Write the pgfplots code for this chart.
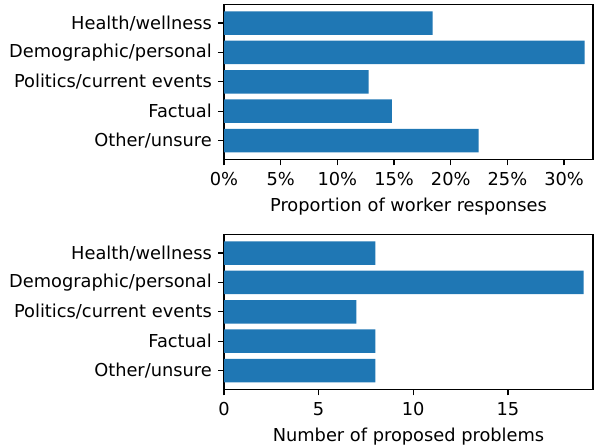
\documentclass[border=0pt]{standalone}
\usepackage{pgfplots}
\pgfplotsset{compat=1.18}
\usepackage{fontspec}
\setmainfont{DejaVu Sans}
\definecolor{mplblue}{HTML}{1F77B4}
\begin{document}
\fontsize{17.8bp}{20bp}\selectfont
\begin{tikzpicture}
\useasboundingbox (0bp,0bp) rectangle (595bp,446bp);
\pgfplotsset{
  myax/.style={
    scale only axis, width=369bp, height=155bp,
    xbar, bar shift=0pt, bar width=0.8,
    ymin=-0.64, ymax=4.64, xmin=0,
    ytick={0,1,2,3,4},
    yticklabels={Other/unsure,Factual,Politics/current events,Demographic/personal,Health/wellness},
    tick align=outside, xtick pos=bottom, ytick pos=left,
    major tick length=6bp,
    every tick/.style={black, line width=1.3bp},
    axis line style={line width=1.3bp},
    /pgf/number format/assume math mode=true,
    tick label style={font=\fontsize{17.8bp}{20bp}\selectfont, inner sep=0pt},
    xticklabel style={yshift=-7bp},
    yticklabel style={xshift=-6bp},
    label style={font=\fontsize{17.8bp}{20bp}\selectfont},
    xlabel style={inner sep=0pt},
  }
}
\begin{axis}[myax, at={(224bp,286.7bp)}, anchor=south west,
  xmax=32.55,
  xtick={0,5,10,15,20,25,30},
  xticklabels={0\%,5\%,10\%,15\%,20\%,25\%,30\%},
  xlabel={Proportion of worker responses},
  xlabel style={yshift=-12bp}]
\addplot[fill=mplblue, draw=none] coordinates {(22.46,0) (14.8,1) (12.76,2) (31.8,3) (18.4,4)};
\end{axis}
\begin{axis}[myax, at={(224bp,56.7bp)}, anchor=south west,
  xmax=19.5,
  xtick={0,5,10,15},
  xlabel={Number of proposed problems},
  xlabel style={yshift=-12bp}]
\addplot[fill=mplblue, draw=none] coordinates {(8,0) (8,1) (7,2) (19,3) (8,4)};
\end{axis}
\end{tikzpicture}
\end{document}
